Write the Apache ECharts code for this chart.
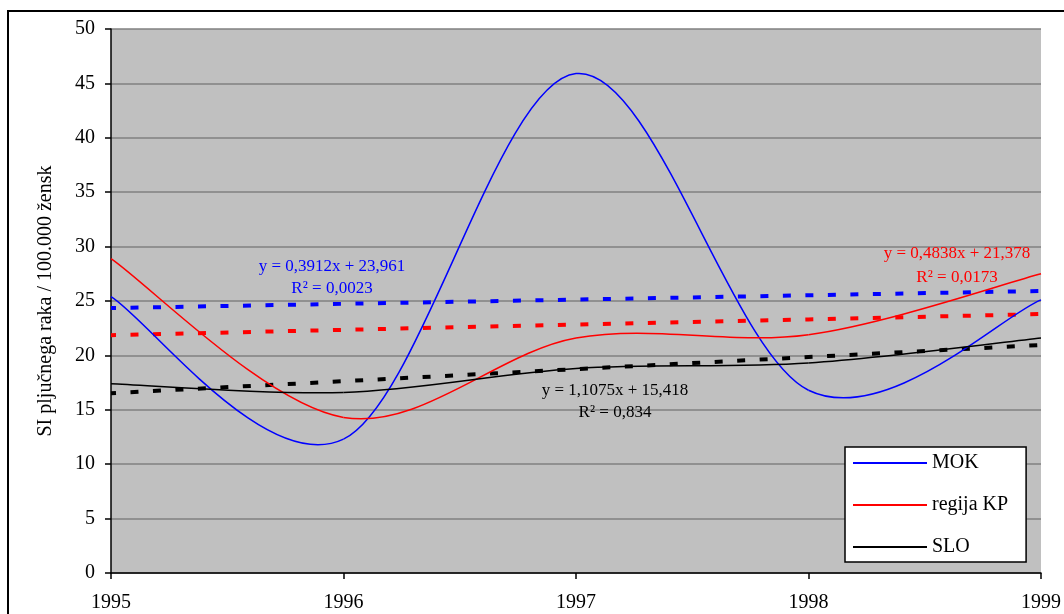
<!DOCTYPE html>
<html><head><meta charset="utf-8">
<script src="https://cdn.jsdelivr.net/npm/echarts@6/dist/echarts.min.js"></script>
<style>html,body{margin:0;padding:0;background:#fff}#c{width:1064px;height:614px}</style>
</head><body><div id="c"></div>
<script>
const years = [1995, 1996, 1997, 1998, 1999];
const mok = [25.4, 12.3, 45.9, 16.8, 25.1];
const regijaKP = [28.9, 14.3, 21.6, 21.9, 27.5];
const slo = [17.4, 16.6, 18.8, 19.3, 21.6];
const mokTrend = [24.35, 24.74, 25.13, 25.53, 25.92];
const kpTrend = [21.86, 22.35, 22.83, 23.31, 23.80];
const sloTrend = [16.53, 17.63, 18.74, 19.85, 20.96];
const seriesNames = ['MOK', 'regija KP', 'SLO'];
const mokEq = ['y = 0,3912x + 23,961', 'R² = 0,0023'];
const kpEq = ['y = 0,4838x + 21,378', 'R² = 0,0173'];
const sloEq = ['y = 1,1075x + 15,418', 'R² = 0,834'];
const yAxisTitle = 'SI pljučnega raka / 100.000 žensk';

const FONT = 'Liberation Serif, Times New Roman, serif';
const C_BLUE = '#0000ff', C_RED = '#ff0000', C_BLACK = '#000000';

function smoothRender(values, color) {
  return function (params, api) {
    const p = years.map((x, i) => api.coord([x, values[i]]));
    const n = p.length;
    const children = [];
    for (let i = 0; i < n - 1; i++) {
      const p0 = p[Math.max(i - 1, 0)], p1 = p[i], p2 = p[i + 1], p3 = p[Math.min(i + 2, n - 1)];
      children.push({
        type: 'bezierCurve',
        shape: {
          x1: p1[0], y1: p1[1], x2: p2[0], y2: p2[1],
          cpx1: p1[0] + (p2[0] - p0[0]) / 6, cpy1: p1[1] + (p2[1] - p0[1]) / 6,
          cpx2: p2[0] - (p3[0] - p1[0]) / 6, cpy2: p2[1] - (p3[1] - p1[1]) / 6
        },
        style: { stroke: color, lineWidth: 1.5, fill: 'none' }
      });
    }
    return { type: 'group', children: children };
  };
}

function curveSeries(name, values, color) {
  return {
    name: name, type: 'custom', silent: true, z: 5,
    itemStyle: { color: color },
    data: [[years[0], values[0]]],
    encode: { x: 0, y: 1 },
    renderItem: smoothRender(values, color)
  };
}
function trendSeries(name, values, color) {
  return {
    name: name, type: 'line', silent: true, z: 4,
    symbol: 'none', smooth: false,
    data: years.map((x, i) => [x, values[i]]),
    lineStyle: { color: color, width: 4, type: [8, 14.5], dashOffset: 3, cap: 'butt' },
    itemStyle: { color: color }
  };
}
function eqText(lines, cx, y1, y2, color) {
  return [
    { type: 'text', x: cx, y: y1, z: 10, style: { text: lines[0], fill: color, font: '17px ' + FONT, textAlign: 'center', textVerticalAlign: 'middle', align: 'center', verticalAlign: 'middle' } },
    { type: 'text', x: cx, y: y2, z: 10, style: { text: lines[1], fill: color, font: '17px ' + FONT, textAlign: 'center', textVerticalAlign: 'middle', align: 'center', verticalAlign: 'middle' } }
  ];
}

const chart = echarts.init(document.getElementById('c'), null, { renderer: 'canvas' });
chart.setOption({
  animation: false,
  backgroundColor: '#ffffff',
  grid: { left: 111, right: 20, top: 29, bottom: 41, show: true, backgroundColor: '#c0c0c0', borderWidth: 0 },
  xAxis: {
    type: 'value', min: 1995, max: 1999, interval: 1,
    axisLine: { show: true, onZero: false, lineStyle: { color: '#000', width: 1.5 } },
    axisTick: { show: true, length: 6, lineStyle: { color: '#000', width: 1.5 } },
    splitLine: { show: false },
    axisLabel: { color: '#000', fontFamily: FONT, fontSize: 20, margin: 20, formatter: v => String(v) }
  },
  yAxis: {
    type: 'value', min: 0, max: 50, interval: 5,
    name: yAxisTitle, nameLocation: 'middle', nameGap: 55,
    nameTextStyle: { color: '#000', fontFamily: FONT, fontSize: 20 },
    axisLine: { show: true, lineStyle: { color: '#000', width: 1.5 } },
    axisTick: { show: true, length: 6, lineStyle: { color: '#000', width: 1.5 } },
    splitLine: { show: true, lineStyle: { color: '#808080', width: 1.5 } },
    axisLabel: { color: '#000', fontFamily: FONT, fontSize: 20, margin: 16 }
  },
  legend: {
    orient: 'vertical', left: 845, top: 447,
    backgroundColor: '#ffffff', borderColor: '#000', borderWidth: 1.5, borderRadius: 0,
    padding: [6, 18, 5, 8],
    itemWidth: 74, itemHeight: 2, itemGap: 22,
    textStyle: { color: '#000', fontFamily: FONT, fontSize: 20, lineHeight: 20 },
    data: seriesNames.map(n => ({ name: n, icon: 'rect' })),
    selectedMode: false
  },
  graphic: [
    { type: 'rect', z: -1, shape: { x: 8, y: 11, width: 1200, height: 800 }, style: { fill: 'none', stroke: '#000', lineWidth: 2 } }
  ].concat(
    eqText(mokEq, 332, 267, 289, C_BLUE),
    eqText(kpEq, 957, 254, 278, C_RED),
    eqText(sloEq, 615, 391, 413, C_BLACK)
  ),
  series: [
    trendSeries('MOK trend', mokTrend, C_BLUE),
    trendSeries('regija KP trend', kpTrend, C_RED),
    trendSeries('SLO trend', sloTrend, C_BLACK),
    curveSeries(seriesNames[0], mok, C_BLUE),
    curveSeries(seriesNames[1], regijaKP, C_RED),
    curveSeries(seriesNames[2], slo, C_BLACK)
  ]
});
</script></body></html>
